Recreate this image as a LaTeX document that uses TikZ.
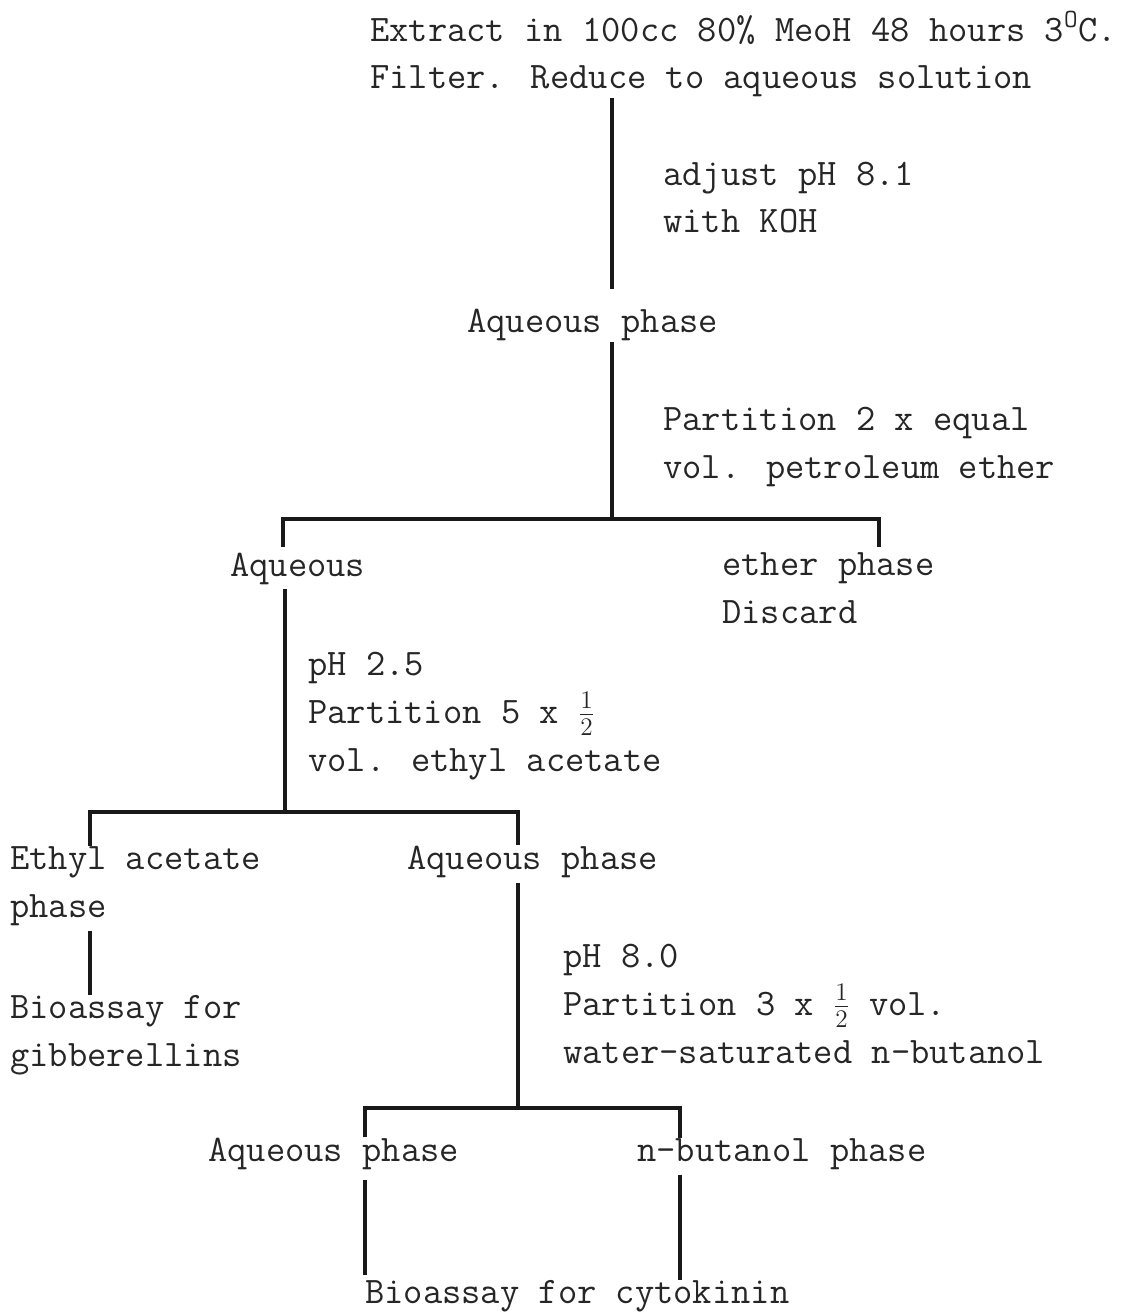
\documentclass[tikz,border=0pt]{standalone}
\usepackage{tikz}

\begin{document}
\begin{tikzpicture}[x=0.02cm,y=-0.02cm,
  lbl/.style={font=\fontsize{21.3}{27.3}\selectfont\ttfamily,text=black!85,
    inner sep=0pt,anchor=base west,align=left},
  link/.style={line width=2.2pt,draw=black!90}]
  \useasboundingbox (0,0) rectangle (1143,1314);
  % tee points of the partition bars
  \coordinate (b1m) at (612,519);
  \coordinate (b1l) at (283,519);
  \coordinate (b1r) at (879,519);
  \coordinate (b2m) at (285,812);
  \coordinate (b2l) at (90,812);
  \coordinate (b2r) at (518,812);
  \coordinate (b3m) at (518,1108);
  \coordinate (b3l) at (365,1108);
  \coordinate (b3r) at (680,1108);

  % labels (placed at the baseline of their last line)
  \node[lbl] (extract) at (370,89) {Extract in 100cc 80\% MeoH 48 hours 3\textsuperscript{O}C.\\Filter. Reduce to aqueous solution};
  \node[lbl] (adjust) at (663,233) {adjust pH 8.1\\with KOH};
  \node[lbl] (aq1) at (467,333) {Aqueous phase};
  \node[lbl] (part1) at (663,478) {Partition 2 x equal\\vol. petroleum ether};
  \node[lbl] (aqL) at (230,576) {Aqueous};
  \node[lbl] (ether) at (722,623) {ether phase\\Discard};
  \node[lbl] (ph25) at (308,771) {pH 2.5\\Partition 5 x $\frac{1}{2}$\\vol. ethyl acetate};
  \node[lbl] (ethyl) at (10,917) {Ethyl acetate\\phase};
  \node[lbl] (aqM) at (407,869) {Aqueous phase};
  \node[lbl] (bioG) at (10,1066) {Bioassay for\\gibberellins};
  \node[lbl] (ph80) at (563,1063) {pH 8.0\\Partition 3 x $\frac{1}{2}$ vol.\\water-saturated n-butanol};
  \node[lbl] (aqB) at (208,1161) {Aqueous phase};
  \node[lbl] (butanol) at (637,1161) {n-butanol phase};
  \node[lbl] (bioC) at (365,1303) {Bioassay for cytokinin};

  % first step
  \draw[link] (extract.south -| b1m) -- ([yshift=0.4cm]aq1.north -| b1m);
  \draw[link] (aq1.south -| b1m) -- (b1m);
  \draw[link] ([yshift=0.1cm]aqL.north -| b1l) -- (b1l) -- (b1r) -- ([yshift=0.1cm]ether.north -| b1r);
  % ethyl acetate step
  \draw[link] ([yshift=-0.08cm]aqL.south -| b2m) -- (b2m);
  \draw[link] (ethyl.north -| b2l) -- (b2l) -- (b2r) -- (aqM.north -| b2r);
  \draw[link,shorten <=0.1cm] (ethyl.south -| b2l) -- (bioG.north -| b2l);
  % butanol step
  \draw[link] ([yshift=-0.1cm]aqM.south -| b2r) -- (b3m);
  \draw[link] (aqB.north -| b3l) -- (b3l) -- (b3r) -- (butanol.north -| b3r);
  \draw[link,shorten <=0.2cm,shorten >=0.1cm] (aqB.south -| b3l) -- (bioC.north -| b3l);
  \draw[link,shorten <=0.1cm] (butanol.south -| b3r) -- (bioC.north -| b3r);
\end{tikzpicture}
\end{document}
